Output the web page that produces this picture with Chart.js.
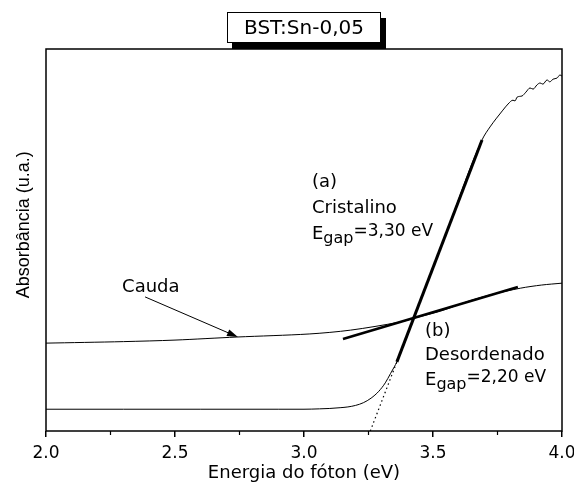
<!DOCTYPE html>
<html>
<head>
<meta charset="utf-8">
<script src="https://cdn.jsdelivr.net/npm/chart.js@4"></script>
<style>
  body { margin: 0; background: #fff; }
  #graph_chart { display: block; }
</style>
</head>
<body>
<canvas id="graph_chart" width="574" height="493"></canvas>
<script>
// absorbance curves (arbitrary units), photon energy in eV
const cristalinoX = [2.0, 2.3, 2.6, 2.9, 3.0, 3.06, 3.1, 3.14, 3.17, 3.2, 3.23, 3.26, 3.29, 3.315, 3.335, 3.35, 3.36,
    3.45, 3.55, 3.69, 3.721, 3.744, 3.771, 3.791, 3.81, 3.818, 3.826, 3.845, 3.86, 3.876, 3.888, 3.903, 3.915,
    3.926, 3.942, 3.953, 3.965, 3.981, 3.992, 4.0];
const cristalinoY = [0.057, 0.057, 0.057, 0.057, 0.057, 0.058, 0.059, 0.061, 0.063, 0.067, 0.074, 0.086, 0.104, 0.126, 0.150, 0.168, 0.181,
    0.339, 0.516, 0.762, 0.796, 0.817, 0.840, 0.856, 0.866, 0.864, 0.874, 0.877, 0.887, 0.898, 0.895, 0.906, 0.911,
    0.908, 0.919, 0.914, 0.921, 0.924, 0.932, 0.929];

const desordenadoX = [2.0, 2.3, 2.5, 2.74, 3.02, 3.18, 3.37, 3.43, 3.53, 3.63, 3.72, 3.84, 3.92, 4.0];
const desordenadoY = [0.230, 0.234, 0.238, 0.246, 0.254, 0.264, 0.285, 0.296, 0.314, 0.338, 0.356, 0.374, 0.382, 0.387];

// linear fits used to read the gaps
const fitAX = [3.36, 3.69];
const fitAY = [0.181, 0.762];
const fitAExtX = [3.257, 3.36];
const fitAExtY = [0.0, 0.181];
const fitBX = [3.151, 3.829];
const fitBY = [0.241, 0.377];

const xTickValues = [2.0, 2.5, 3.0, 3.5, 4.0];
const xMinorTicks = [2.25, 2.75, 3.25, 3.75];

const titulo = 'BST:Sn-0,05';
const yTitle = 'Absorbância (u.a.)';
const textFont = '"DejaVu Sans", sans-serif';

function toPoints(xs, ys) {
    return xs.map((x, i) => ({x: x, y: ys[i]}));
}

function lineSet(xs, ys, width, extra) {
    return Object.assign({
        data: toPoints(xs, ys),
        showLine: true,
        borderColor: '#000',
        borderWidth: width,
        pointRadius: 0,
        fill: false
    }, extra || {});
}

function drawEgap(ctx, x, y, value) {
    ctx.font = '18px ' + textFont;
    ctx.fillText('E', x, y);
    x += ctx.measureText('E').width;
    ctx.font = '16px ' + textFont;
    ctx.fillText('gap', x, y + 4);
    x += ctx.measureText('gap').width;
    ctx.font = '17px ' + textFont;
    ctx.fillText('=' + value, x, y - 3);
}

const annotations = {
    id: 'annotations',
    beforeDraw(chart) {
        const ctx = chart.ctx;
        ctx.save();
        ctx.fillStyle = '#fff';
        ctx.fillRect(0, 0, chart.width, chart.height);
        ctx.restore();
    },
    afterDraw(chart) {
        const ctx = chart.ctx;
        const xs = chart.scales.x, ys = chart.scales.y;
        const area = chart.chartArea;
        const px = v => xs.getPixelForValue(v);
        const py = v => ys.getPixelForValue(v);

        ctx.save();
        ctx.strokeStyle = '#000';
        ctx.fillStyle = '#000';

        // frame
        ctx.lineWidth = 1.5;
        ctx.strokeRect(area.left, area.top, area.right - area.left, area.bottom - area.top);

        // minor ticks
        ctx.lineWidth = 1.2;
        xMinorTicks.forEach(v => {
            ctx.beginPath();
            ctx.moveTo(px(v), area.bottom);
            ctx.lineTo(px(v), area.bottom + 4);
            ctx.stroke();
        });

        // vertical axis title, a bit above the axis centre
        ctx.save();
        ctx.translate(area.left - 22, py(0.54));
        ctx.rotate(-Math.PI / 2);
        ctx.font = '18px "Liberation Sans", Arial, sans-serif';
        ctx.textAlign = 'center';
        ctx.textBaseline = 'middle';
        ctx.fillText(yTitle, 0, 0);
        ctx.restore();

        // arrow to the tail
        const x0 = px(2.384), y0 = py(0.351), x1 = px(2.744), y1 = py(0.246);
        const ang = Math.atan2(y1 - y0, x1 - x0);
        ctx.lineWidth = 1;
        ctx.beginPath();
        ctx.moveTo(x0, y0);
        ctx.lineTo(x1 - 8 * Math.cos(ang), y1 - 8 * Math.sin(ang));
        ctx.stroke();
        ctx.beginPath();
        ctx.moveTo(x1, y1);
        ctx.lineTo(x1 - 11 * Math.cos(ang) + 3.5 * Math.sin(ang), y1 - 11 * Math.sin(ang) - 3.5 * Math.cos(ang));
        ctx.lineTo(x1 - 11 * Math.cos(ang) - 3.5 * Math.sin(ang), y1 - 11 * Math.sin(ang) + 3.5 * Math.cos(ang));
        ctx.closePath();
        ctx.fill();

        ctx.textAlign = 'left';
        ctx.textBaseline = 'alphabetic';
        ctx.font = '18px ' + textFont;
        ctx.fillText('Cauda', px(2.295), py(0.364));

        ctx.fillText('(a)', px(3.031), py(0.639));
        ctx.fillText('Cristalino', px(3.031), py(0.571));
        drawEgap(ctx, px(3.031), py(0.503), '3,30 eV');

        ctx.font = '18px ' + textFont;
        ctx.fillText('(b)', px(3.469), py(0.249));
        ctx.fillText('Desordenado', px(3.469), py(0.186));
        drawEgap(ctx, px(3.469), py(0.12), '2,20 eV');

        // title box with drop shadow
        const cx = (area.left + area.right) / 2;
        const bw = 154, bh = 31, bx = cx - bw / 2, by = 12;
        ctx.fillRect(bx + 5, by + 6, bw, bh);
        ctx.fillStyle = '#fff';
        ctx.fillRect(bx, by, bw, bh);
        ctx.lineWidth = 1;
        ctx.strokeRect(bx + 0.5, by + 0.5, bw - 1, bh - 1);
        ctx.fillStyle = '#000';
        ctx.font = '20px ' + textFont;
        ctx.textAlign = 'center';
        ctx.textBaseline = 'middle';
        ctx.fillText(titulo, cx, by + bh / 2 + 1);
        ctx.restore();
    }
};

new Chart(document.getElementById('graph_chart'), {
    type: 'scatter',
    data: {
        datasets: [
            lineSet(desordenadoX, desordenadoY, 1, {tension: 0.3}),
            lineSet(cristalinoX, cristalinoY, 1, {cubicInterpolationMode: 'monotone'}),
            lineSet(fitAExtX, fitAExtY, 1.2, {borderDash: [1.5, 3]}),
            lineSet(fitAX, fitAY, 3),
            lineSet(fitBX, fitBY, 2.5)
        ]
    },
    options: {
        responsive: false,
        animation: false,
        devicePixelRatio: 1,
        layout: {padding: {top: 49, right: 12, left: 0, bottom: 0}},
        plugins: {legend: {display: false}, tooltip: {enabled: false}},
        scales: {
            x: {
                type: 'linear',
                min: 2, max: 4,
                border: {display: false},
                grid: {display: true, drawOnChartArea: false, tickLength: 6, color: '#000', lineWidth: 1.5},
                afterBuildTicks: scale => { scale.ticks = xTickValues.map(v => ({value: v})); },
                ticks: {
                    color: '#000',
                    padding: 6,
                    maxRotation: 0,
                    font: {family: textFont, size: 17},
                    callback: v => v.toFixed(1)
                },
                title: {
                    display: true,
                    text: 'Energia do fóton (eV)',
                    color: '#000',
                    font: {family: textFont, size: 18},
                    padding: {top: 4, bottom: 9}
                },
                afterFit: scale => {
                    scale.height = 62;
                    scale.paddingLeft = 0;
                    scale.paddingRight = 0;
                }
            },
            y: {
                type: 'linear',
                min: 0, max: 1,
                border: {display: false},
                grid: {display: false},
                ticks: {display: false},
                title: {display: false},
                afterFit: scale => {
                    scale.width = 46;
                    scale.paddingTop = 0;
                    scale.paddingBottom = 0;
                }
            }
        }
    },
    plugins: [annotations]
});
</script>
</body>
</html>
